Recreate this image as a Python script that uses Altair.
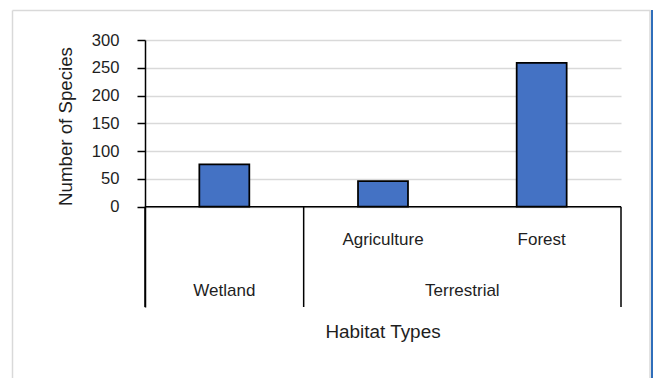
import altair as alt
import pandas as pd

# Two-level category axis: habitat group, then habitat subtype
groups = ["Wetland", "Terrestrial", "Terrestrial"]
subtypes = ["", "Agriculture", "Forest"]
species = [76, 46, 259]

y_ticks = [0, 50, 100, 150, 200, 250, 300]

FONT = "Liberation Sans"
TEXT = "#1e1e1e"
BAR = "#4472C4"
W, H = 476, 267

df = pd.DataFrame({"group": groups, "subtype": subtypes, "species": species})
df["idx"] = range(len(df))
df["mid"] = df["idx"] + 0.5

# group spans on the category axis
spans = (
    df.groupby("group", sort=False)["idx"]
    .agg(["min", "max"])
    .reset_index()
)
spans["start"] = spans["min"]
spans["end"] = spans["max"] + 1
spans["mid"] = (spans["start"] + spans["end"]) / 2
bounds = pd.DataFrame({"b": sorted(set(spans["start"]) | set(spans["end"]))})

x_scale = alt.Scale(domain=[0, len(df)], nice=False, zero=False)
y_scale = alt.Scale(domain=[-180.5, 300], nice=False, zero=False)

y_axis = alt.Axis(
    values=y_ticks,
    title=None,
    grid=True,
    gridColor="#d9d9d9",
    gridWidth=1.5,
    domainColor="black",
    domainWidth=1.5,
    tickColor="black",
    tickWidth=1.5,
    tickSize=8,
    labelPadding=18,
    labelFont=FONT,
    labelFontSize=16.6,
    labelColor=TEXT,
)

bars = (
    alt.Chart(df)
    .transform_calculate(lo="datum.idx + 0.5 - 0.1575", hi="datum.idx + 0.5 + 0.1575")
    .mark_bar(color=BAR, stroke="black", strokeWidth=1.75)
    .encode(
        x=alt.X("lo:Q", scale=x_scale, axis=None),
        x2="hi:Q",
        y=alt.Y("species:Q", scale=y_scale, axis=y_axis),
        y2=alt.datum(0),
    )
)

# baseline at zero across the plot
zero = (
    alt.Chart(pd.DataFrame({"y": [0], "a": [0], "b": [len(df)]}))
    .mark_rule(color="black", strokeWidth=1.5)
    .encode(x=alt.X("a:Q", scale=x_scale), x2="b:Q", y=alt.Y("y:Q", scale=y_scale))
)

# vertical dividers between habitat groups below the axis
dividers = (
    alt.Chart(bounds)
    .transform_calculate(top="0", bottom="-180.5")
    .mark_rule(color="black", strokeWidth=1.5)
    .encode(
        x=alt.X("b:Q", scale=x_scale),
        y=alt.Y("top:Q", scale=y_scale),
        y2="bottom:Q",
    )
)

sub_labels = (
    alt.Chart(df)
    .mark_text(font=FONT, fontSize=17, color=TEXT, baseline="alphabetic", align="center")
    .encode(x=alt.X("mid:Q", scale=x_scale), y=alt.value(205), text="subtype:N")
)

group_labels = (
    alt.Chart(spans)
    .mark_text(font=FONT, fontSize=17, color=TEXT, baseline="alphabetic", align="center")
    .encode(x=alt.X("mid:Q", scale=x_scale), y=alt.value(255.7), text="group:N")
)

one = alt.Data(values=[{}])

x_title = (
    alt.Chart(one)
    .mark_text(text="Habitat Types", font=FONT, fontSize=18.9, color=TEXT,
               baseline="alphabetic", align="center")
    .encode(x=alt.value(W / 2), y=alt.value(298.3))
)

y_title = (
    alt.Chart(one)
    .mark_text(text="Number of Species", font=FONT, fontSize=18.7, color=TEXT,
               baseline="alphabetic", align="center", angle=270)
    .encode(x=alt.value(-73), y=alt.value(86.5))
)

# chart frame: light grey edge with a blue strip on the right
frame_left = (
    alt.Chart(one).mark_rule(color="#d9d9d9", strokeWidth=1.5)
    .encode(x=alt.value(-132.5), y=alt.value(-29.5), y2=alt.value(340))
)
frame_top = (
    alt.Chart(one).mark_rule(color="#d9d9d9", strokeWidth=1.5)
    .encode(x=alt.value(-132.5), x2=alt.value(505.5), y=alt.value(-29.5))
)
frame_right = (
    alt.Chart(one).mark_rule(color="#d9d9d9", strokeWidth=1.5)
    .encode(x=alt.value(505), y=alt.value(-29.5), y2=alt.value(340))
)
frame_blue = (
    alt.Chart(one).mark_rule(color="#2F6EBA", strokeWidth=2)
    .encode(x=alt.value(507), y=alt.value(-30), y2=alt.value(340))
)

chart = (
    alt.layer(
        bars, zero, dividers, sub_labels, group_labels, x_title, y_title,
        frame_left, frame_top, frame_right, frame_blue,
    )
    .properties(
        width=W,
        height=H,
        padding={"left": 145, "top": 40, "right": 32, "bottom": 71},
        autosize=alt.AutoSizeParams(type="none"),
        background="white",
    )
    .configure_view(stroke="transparent")
)

chart.save("out.html", embed_options={"renderer": "svg", "actions": False})
